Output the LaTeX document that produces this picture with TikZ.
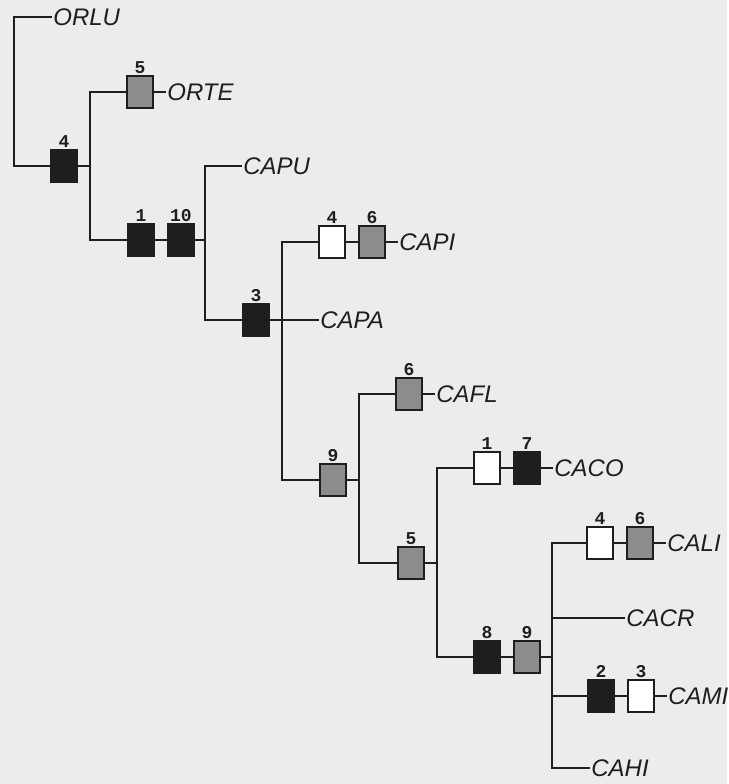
\documentclass[tikz,border=0pt]{standalone}
\usepackage{fontspec}
\setmainfont{Liberation Sans}
\newfontfamily\numfont{Liberation Mono}
\definecolor{paper}{HTML}{ECECEC}
\definecolor{ink}{HTML}{1E1E1E}
\definecolor{dots}{HTML}{8C8C8C}
\usetikzlibrary{positioning}

\begin{document}
\begin{tikzpicture}[
      x=0.5pt, y=-0.5pt, line width=1.4pt, ink,
      box/.style={draw=ink, line width=1pt, minimum width=13pt, minimum height=16pt,
                  inner sep=0pt, label distance=2.5pt},
      blk/.style={box, fill=ink},
      gry/.style={box, fill=dots},
      wht/.style={box, fill=white},
      num/.style={font=\numfont\bfseries\fontsize{9}{10}\selectfont, inner sep=0pt},
      taxon/.style={font=\itshape\fontsize{12}{14}\selectfont, inner sep=0pt, anchor=west},
   ]
      % paper
      \fill[paper] (0,0) rectangle (727,784);

      % outgroup
      \node[taxon] (orlu) at (52,17) {ORLU};
      \coordinate (c0) at (14,166);
      \node[blk, label={[num]above:4}] (b4) at (64,166) {};
      \coordinate (j1) at (90,166);

      % ORTE
      \node[gry, label={[num]above:5}] (b5) at (140,92) {};
      \node[taxon, right=6pt of b5] (orte) {ORTE};

      % 1, 10
      \node[blk, label={[num]above:1}] (b1) at (141,240) {};
      \node[blk, label={[num]above:10}, right=6pt of b1] (b10) {};
      \coordinate (j2) at (205,240);
      \node[taxon] (capu) at (242,166) {CAPU};

      % 3
      \node[blk, label={[num]above:3}] (b3) at (256,320) {};
      \coordinate (j3) at (282,320);

      % CAPI
      \node[wht, label={[num]above:4}] (w4) at (332,242) {};
      \node[gry, label={[num]above:6}, right=6pt of w4] (g6) {};
      \node[taxon, right=6pt of g6] (capi) {CAPI};
      \node[taxon] (capa) at (319,320) {CAPA};

      % 9
      \node[gry, label={[num]above:9}] (g9) at (333,480) {};
      \coordinate (j4) at (359,480);

      % CAFL
      \node[gry, label={[num]above:6}] (g6b) at (409,394) {};
      \node[taxon, right=6pt of g6b] (cafl) {CAFL};

      % 5
      \node[gry, label={[num]above:5}] (g5) at (411,563) {};
      \coordinate (j5) at (437,563);

      % CACO
      \node[wht, label={[num]above:1}] (w1) at (487,468) {};
      \node[blk, label={[num]above:7}, right=6pt of w1] (k7) {};
      \node[taxon, right=6pt of k7] (caco) {CACO};

      % 8, 9
      \node[blk, label={[num]above:8}] (k8) at (487,657) {};
      \node[gry, label={[num]above:9}, right=6pt of k8] (g9b) {};
      \coordinate (j6) at (552,657);

      % CALI
      \node[wht, label={[num]above:4}] (w4b) at (600,543) {};
      \node[gry, label={[num]above:6}, right=6pt of w4b] (g6c) {};
      \node[taxon, right=6pt of g6c] (cali) {CALI};

      % CACR
      \node[taxon] (cacr) at (625,618) {CACR};

      % CAMI
      \node[blk, label={[num]above:2}] (k2) at (601,696) {};
      \node[wht, label={[num]above:3}, right=6pt of k2] (w3) {};
      \node[taxon, right=6pt of w3] (cami) {CAMI};

      % CAHI
      \node[taxon] (cahi) at (590,768) {CAHI};

      % branches
      \draw (orlu) -| (c0) -- (b4) -- (j1);
      \draw (b5) -| (j1) |- (b1);
      \draw (b5) -- (orte);
      \draw (b1) -- (b10) -- (j2);
      \draw (capu) -| (j2) |- (b3);
      \draw (b3) -- (j3);
      \draw (w4) -| (j3) |- (g9);
      \draw (w4) -- (g6) -- (capi);
      \draw (j3) -- (capa);
      \draw (g9) -- (j4);
      \draw (g6b) -| (j4) |- (g5);
      \draw (g6b) -- (cafl);
      \draw (g5) -- (j5);
      \draw (w1) -| (j5) |- (k8);
      \draw (w1) -- (k7) -- (caco);
      \draw (k8) -- (g9b) -- (j6);
      \draw (w4b) -| (j6) |- (cahi);
      \draw (w4b) -- (g6c) -- (cali);
      \draw (cacr) -| (j6);
      \draw (k2) -| (j6);
      \draw (k2) -- (w3) -- (cami);
   \end{tikzpicture}
\end{document}
